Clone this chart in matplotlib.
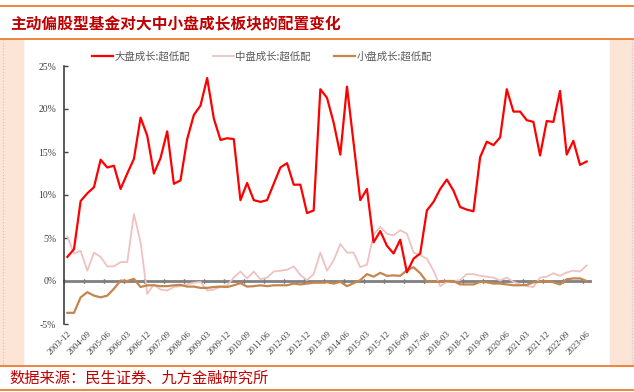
import numpy as np
import pandas as pd
import matplotlib.pyplot as plt
from matplotlib.lines import Line2D
from matplotlib.patches import Rectangle

cjk = ['Noto Sans CJK SC', 'DejaVu Sans']
serif = ['Liberation Serif', 'DejaVu Serif']

# quarterly categories 2003-12 ... 2023-06
quarters = [p.strftime('%Y-%m') for p in
            pd.period_range('2003Q4', '2023Q2', freq='Q').to_timestamp(how='end')]
tick_labels = quarters[::3]

big = [2.8, 3.7, 9.3, 10.2, 10.9, 14.1, 13.2, 13.4, 10.7, 12.5,
       14.2, 19.0, 16.9, 12.5, 14.3, 17.4, 11.3, 11.7, 16.5, 19.3,
       20.4, 23.6, 18.9, 16.4, 16.6, 16.5, 9.4, 11.4, 9.4, 9.2,
       9.4, 11.3, 13.2, 13.7, 11.2, 11.2, 7.9, 8.2, 22.3, 21.3,
       18.4, 14.7, 22.6, 16.0, 9.4, 10.7, 4.5, 5.8, 4.1, 3.2,
       4.8, 1.0, 2.6, 3.2, 8.2, 9.2, 10.7, 11.8, 10.5, 8.6,
       8.3, 8.1, 14.4, 16.2, 15.8, 16.7, 22.3, 19.7, 19.7, 18.7,
       18.5, 14.6, 18.6, 18.5, 22.1, 14.7, 16.3, 13.5, 13.9]

mid = [5.2, 3.2, 3.5, 1.2, 3.3, 2.8, 1.7, 1.7, 2.2, 2.2,
       7.8, 4.5, -1.5, -0.4, -1.0, -1.1, -0.7, -0.6, -0.4, -0.2,
       -0.1, -1.1, -1.0, -0.7, -0.5, 0.4, 1.1, 0.3, 1.1, 0.2,
       0.4, 1.1, 1.2, 1.3, 1.7, 0.7, 0.1, 0.8, 3.3, 1.2,
       2.4, 4.3, 3.3, 3.3, 1.6, 1.9, 5.4, 6.3, 5.5, 5.3,
       5.9, 5.5, 3.3, 3.0, 2.6, 1.2, -0.6, -0.1, 0.0, 0.1,
       0.8, 0.8, 0.6, 0.5, 0.4, 0.05, 0.4, -0.1, -0.4, -0.6,
       -0.7, 0.4, 0.5, 0.9, 0.6, 1.0, 1.2, 1.1, 1.8]

small = [-3.7, -3.7, -1.9, -1.3, -1.7, -1.9, -1.7, -0.9, 0.05, 0.0,
         0.25, -0.7, -0.5, -0.5, -0.6, -0.6, -0.5, -0.45, -0.65, -0.65,
         -0.8, -0.8, -0.7, -0.65, -0.7, -0.5, -0.25, -0.65, -0.6, -0.5,
         -0.6, -0.5, -0.5, -0.5, -0.3, -0.4, -0.3, -0.2, -0.2, -0.15,
         -0.3, -0.1, -0.6, -0.25, 0.1, 0.8, 0.5, 0.95, 0.6, 0.65,
         0.6, 1.25, 1.6, 0.9, -0.1, -0.1, -0.1, 0.0, 0.0, -0.4,
         -0.4, -0.4, -0.1, -0.15, -0.3, -0.3, -0.4, -0.5, -0.5, -0.45,
         -0.15, -0.1, 0.0, -0.15, -0.4, 0.2, 0.3, 0.3, 0.0]

names = ['大盘成长:超低配', '中盘成长:超低配', '小盘成长:超低配']
colors = ['#FF0000', '#EFC2C2', '#C4864F']
title = '主动偏股型基金对大中小盘成长板块的配置变化'
source = '数据来源：民生证券、九方金融研究所'

W, H = 634, 392
def fx(x): return x / W
def fy(y): return 1 - y / H

fig = plt.figure(figsize=(W / 100, H / 100), dpi=100)

# side bands and frame lines
for x0, x1 in [(0, 22.5), (610, 634)]:
    fig.patches.append(Rectangle((fx(x0), fy(366)), fx(x1) - fx(x0), fy(39) - fy(366),
                                 transform=fig.transFigure, color='#FCE4D6', zorder=0))
for xx in [2.5, 631.5]:
    fig.add_artist(Line2D([fx(xx)] * 2, [fy(39), fy(366)], color='#C8C8C8', lw=0.8, ls=':'))
for yy in [6, 38.5, 366, 390]:
    fig.add_artist(Line2D([0, 1], [fy(yy)] * 2, color='#ED7D31', lw=1.3))

fig.text(fx(10), fy(24), title, color='#C00000', fontsize=11.3, fontweight='bold',
         family=cjk, va='center', ha='left')
fig.text(fx(9), fy(378), source, color='#C00000', fontsize=11, family=cjk,
         va='center', ha='left')

ax = fig.add_axes([fx(64), fy(324), fx(590) - fx(64), fy(66) - fy(324)])
x = np.arange(len(quarters))
ax.plot(x, big, color=colors[0], lw=1.6, label=names[0], zorder=5)
ax.plot(x, mid, color=colors[1], lw=1.3, label=names[1], zorder=3)
ax.plot(x, small, color=colors[2], lw=1.6, label=names[2], zorder=4)

ax.set_xlim(-0.5, len(quarters) - 0.5)
ax.set_ylim(-5, 25)
yt = np.arange(-5, 26, 5)
ax.set_yticks(yt, labels=[f'{v}%' for v in yt])
for lab in ax.get_yticklabels():
    lab.set_family(serif)
ax.tick_params(axis='y', direction='in', length=3, width=1, pad=5.5,
               labelsize=7, labelcolor='#404040', color='#404040')

ax.spines[['top', 'right']].set_visible(False)
ax.spines['left'].set_color('#404040')
ax.spines['left'].set_linewidth(1.2)
ax.spines['bottom'].set_position(('data', 0))
ax.spines['bottom'].set_color('#808080')
ax.spines['bottom'].set_linewidth(2)
ax.spines['bottom'].set_zorder(2)
ax.set_xticks(np.arange(-0.5, len(quarters) - 1, 3))
ax.tick_params(axis='x', direction='inout', length=3, width=1, color='#303030',
               labelbottom=False)

sec = ax.secondary_xaxis(0)
sec.set_xticks(x[::3], labels=tick_labels)
sec.spines['bottom'].set_visible(False)
sec.tick_params(length=0, pad=4)
for lab in sec.get_xticklabels():
    lab.set_rotation(45)
    lab.set_ha('right')
    lab.set_va('top')
    lab.set_rotation_mode('anchor')
    lab.set_fontsize(6.5)
    lab.set_family(serif)
    lab.set_color('#404040')

fig.legend(loc='center', bbox_to_anchor=(fx(262), fy(57)), ncol=3, frameon=False,
           prop={'family': cjk, 'size': 7.5}, labelcolor='#595959',
           handlelength=2.0, handletextpad=0.15, columnspacing=2.2)

fig.savefig('out.png', dpi=100)
